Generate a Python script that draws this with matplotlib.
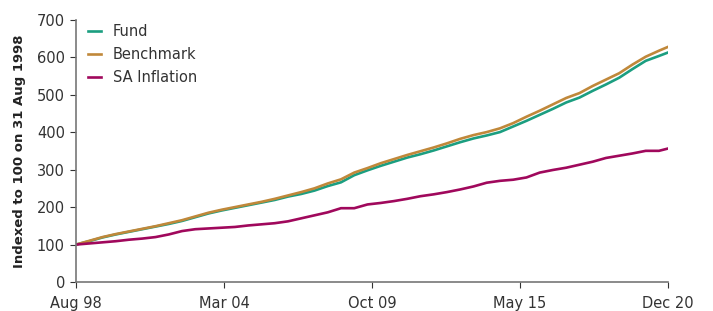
import matplotlib
matplotlib.use('Agg')
import matplotlib.pyplot as plt

# months since Aug 1998, every ~6 months
months = [0, 6, 12, 18, 24, 30, 36, 42, 48, 54, 60, 66, 72, 78, 84, 90, 96,
          102, 108, 114, 120, 126, 132, 138, 144, 150, 156, 162, 168, 174,
          180, 186, 192, 198, 204, 210, 216, 222, 228, 234, 240, 246, 252,
          258, 264, 268]

fund = [100, 109, 119, 127, 134, 141, 148, 155, 163, 173, 183, 191, 198, 205,
        212, 219, 228, 235, 244, 256, 266, 285, 298, 310, 321, 332, 341, 351,
        362, 373, 383, 391, 400, 415, 430, 446, 462, 479, 492, 510, 527, 545,
        568, 590, 603, 612]

benchmark = [100, 110, 120, 128, 135, 142, 149, 157, 165, 175, 185, 193, 200,
             207, 214, 222, 231, 240, 250, 263, 274, 292, 304, 317, 328, 339,
             349, 359, 370, 382, 392, 400, 410, 424, 441, 457, 474, 491, 504,
             523, 540, 557, 580, 601, 617, 627]

inflation = [100, 103, 106, 109, 113, 116, 120, 127, 136, 141, 143, 145, 147,
             151, 154, 157, 162, 170, 178, 186, 197, 197, 207, 211, 216, 222,
             229, 234, 240, 247, 255, 265, 270, 273, 279, 292, 299, 305, 313,
             321, 331, 337, 343, 350, 350, 356]

tick_pos = [0, 67, 134, 201, 268]
tick_labels = ['Aug 98', 'Mar 04', 'Oct 09', 'May 15', 'Dec 20']

plt.rcParams['font.family'] = ['DejaVu Sans']

fig = plt.figure(figsize=(7.13, 3.11), dpi=100)
ax = fig.add_axes([0.1066, 0.093, 0.830, 0.844])

ax.plot(months, fund, color='#1b9e80', lw=1.9, label='Fund')
ax.plot(months, benchmark, color='#c0883a', lw=1.9, label='Benchmark')
ax.plot(months, inflation, color='#a0085c', lw=1.9, label='SA Inflation')

ax.set_xlim(0, 268)
ax.set_ylim(0, 700)
ax.set_yticks(range(0, 701, 100))
ax.set_xticks(tick_pos)
ax.set_xticklabels(tick_labels)
ax.tick_params(labelsize=10.5, colors='#333333', length=4, width=0.8)
ax.tick_params(axis='x', pad=6)
ax.tick_params(axis='y', pad=4)

for s in ['top', 'right']:
    ax.spines[s].set_visible(False)
for s in ['left', 'bottom']:
    ax.spines[s].set_color('#777777')
    ax.spines[s].set_linewidth(1.2)

ax.set_ylabel('Indexed to 100 on 31 Aug 1998', fontsize=9.5, fontweight='bold',
              color='#222222', labelpad=8)

leg = ax.legend(loc='upper left', frameon=False, fontsize=10.5, handlelength=0.9,
                handletextpad=0.8, labelspacing=0.55, borderaxespad=0.2,
                bbox_to_anchor=(0.005, 1.018))
for t in leg.get_texts():
    t.set_color('#333333')

fig.savefig('out.png', dpi=100)
